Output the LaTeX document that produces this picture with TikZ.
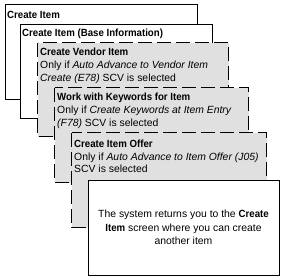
\documentclass[tikz,border=0pt]{standalone}
\usepackage{fontspec}
\setmainfont{Liberation Sans}[BoldFeatures={FakeStretch=0.93}]
\begin{document}
\definecolor{boxgray}{RGB}{224,224,224}
\begin{tikzpicture}[x=1pt,y=-1pt,
  solidbox/.style={draw=black, fill=white, line width=0.9pt},
  dashbox/.style={draw=black, fill=boxgray, line width=1pt, dash pattern=on 14pt off 5pt},
  txt/.style={inner sep=0pt, align=left, anchor=north west, font=\fontsize{10.4}{12.8}\selectfont},
  ctxt/.style={inner sep=0pt, align=center, anchor=center, font=\fontsize{10.4}{13.3}\selectfont}]
\useasboundingbox (0,0) rectangle (285,280);
% box 1
\draw[solidbox] (5,4) rectangle (197,99);
\node[txt] (t1) at (7,11.2) {\textbf{Create Item}};
% box 2
\draw[solidbox] (20,24) rectangle (212,118);
\node[txt] (t2) at (22,29) {\textbf{Create Item (Base Information)}};
% box 3
\draw[dashbox] (38,43) rectangle (229,137);
\node[txt] (t3) at (40,48) {\textbf{Create Vendor Item}\\Only if \textit{Auto Advance to Vendor Item}\\\textit{Create (E78)} SCV is selected};
% box 4
\draw[dashbox] (55,88) rectangle (249,183);
\node[txt] (t4) at (57,93) {\textbf{Work with Keywords for Item}\\Only if \textit{Create Keywords at Item Entry}\\\textit{(F78)} SCV is selected};
% box 5
\draw[dashbox] (72,133) rectangle (267,228);
\node[txt] (t5) at (74,139.6) {\textbf{Create Item Offer}\\Only if \textit{Auto Advance to Item Offer (J05)}\\SCV is selected};
% box 6
\draw[solidbox] (88,180) rectangle (279,275);
\node[ctxt] (t6) at (183.5,227.5) {The system returns you to the \textbf{Create}\\\textbf{Item} screen where you can create\\another item};
\end{tikzpicture}
\end{document}
